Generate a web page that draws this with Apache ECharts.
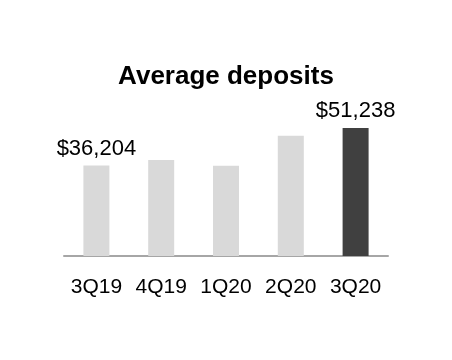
<!DOCTYPE html>
<html>
<head>
<meta charset="utf-8">
<script src="https://cdn.jsdelivr.net/npm/echarts@6/dist/echarts.min.js"></script>
<style>
html,body{margin:0;padding:0;background:#fff;}
#chart{width:452px;height:360px;}
</style>
</head>
<body>
<div id="chart"></div>
<script>
var categories = ['3Q19', '4Q19', '1Q20', '2Q20', '3Q20'];
var values = [36204, 38400, 36100, 48100, 51238];
var labelShown = [true, false, false, false, true];
var barColors = ['#d9d9d9', '#d9d9d9', '#d9d9d9', '#d9d9d9', '#404040'];

var chart = echarts.init(document.getElementById('chart'));
var FONT = '"Liberation Sans", Arial, sans-serif';
chart.setOption({
  animation: false,
  backgroundColor: '#ffffff',
  title: {
    text: 'Average deposits',
    left: 'center',
    top: 59,
    textStyle: { fontFamily: FONT, fontWeight: 'bold', fontSize: 26, color: '#000' }
  },
  grid: { left: 64, right: 64, top: 106, bottom: 104 },
  xAxis: {
    type: 'category',
    data: categories,
    axisLine: { lineStyle: { color: '#a6a6a6', width: 2 } },
    axisTick: { show: false },
    axisLabel: { interval: 0, fontFamily: FONT, fontSize: 21, color: '#000', margin: 21 }
  },
  yAxis: {
    type: 'value',
    min: 0,
    max: 60000,
    show: false,
    splitLine: { show: false }
  },
  series: [{
    type: 'bar',
    barWidth: 26,
    data: values.map(function (v, i) {
      return {
        value: v,
        itemStyle: { color: barColors[i] },
        label: {
          show: labelShown[i],
          position: 'top',
          distance: 6,
          fontFamily: FONT,
          fontSize: 22,
          color: '#000',
          formatter: function (p) { return '$' + p.value.toLocaleString('en-US'); }
        }
      };
    })
  }]
});
</script>
</body>
</html>
